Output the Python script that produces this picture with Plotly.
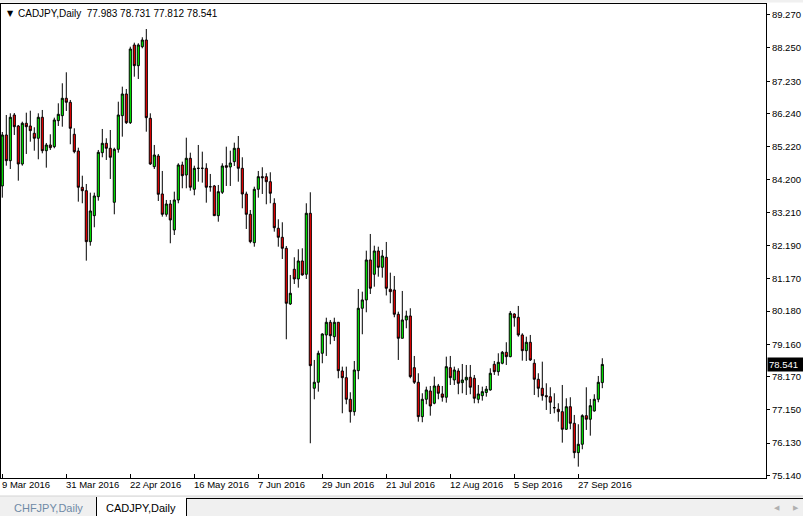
import pandas as pd
import plotly.graph_objects as go

symbol = "CADJPY,Daily"
other_tab = "CHFJPY,Daily"
dates = pd.bdate_range("2016-03-09", periods=151)

opens = [
    84.016, 85.580, 84.791, 86.193, 85.856, 84.690, 85.939, 85.856, 85.632, 85.479,
    86.123, 85.098, 85.273, 85.221, 86.019, 86.172, 86.706, 86.583, 85.601, 85.089,
    83.976, 83.871, 82.307, 83.105, 83.687, 85.037, 85.325, 85.172, 83.515, 85.141,
    86.172, 86.838, 85.957, 88.341, 87.706, 88.288, 88.494, 86.092, 84.608, 84.936,
    83.770, 83.147, 83.463, 82.666, 83.586, 84.660, 84.353, 84.865, 83.914, 84.560,
    84.558, 84.558, 83.994, 84.016, 83.105, 83.822, 84.638, 84.598, 84.761, 85.172,
    84.558, 83.770, 83.147, 82.276, 83.914, 84.301, 84.301, 84.147, 83.485, 82.718,
    82.442, 82.104, 80.396, 81.460, 81.163, 81.715, 81.307, 83.178, 77.810, 77.994,
    78.883, 79.445, 79.834, 79.393, 79.834, 78.340, 78.135, 77.472, 77.092, 78.350,
    80.264, 80.519, 81.746, 81.307, 82.022, 81.521, 81.828, 80.847, 80.825, 80.080,
    79.343, 79.905, 80.028, 78.442, 77.994, 76.939, 77.472, 77.727, 77.350, 77.880,
    77.635, 77.534, 78.442, 78.064, 78.340, 77.982, 78.064, 78.147, 78.117, 77.472,
    77.583, 77.681, 77.758, 78.546, 78.319, 78.577, 78.914, 78.779, 80.089, 79.988,
    79.445, 78.963, 79.221, 78.577, 78.086, 77.810, 77.583, 77.552, 77.215, 77.166,
    77.092, 76.552, 77.245, 76.736, 75.835, 76.092, 76.969, 76.859, 77.114, 77.472,
    77.983,
]
highs = [
    85.672, 86.193, 86.245, 86.254, 85.887, 85.988, 86.264, 86.325, 85.816, 86.245,
    86.347, 85.335, 85.601, 86.111, 86.552, 87.166, 87.503, 86.654, 85.785, 85.190,
    84.331, 84.077, 83.810, 83.810, 85.120, 85.764, 85.479, 85.733, 85.190, 86.601,
    87.062, 86.991, 88.288, 88.411, 88.393, 88.577, 88.831, 86.245, 85.273, 84.997,
    84.476, 83.586, 83.586, 83.841, 84.712, 84.761, 85.497, 85.037, 84.638, 85.273,
    85.068, 84.712, 84.384, 84.046, 84.046, 84.712, 85.221, 85.098, 85.344, 85.549,
    84.896, 83.841, 83.279, 83.994, 84.476, 84.589, 84.405, 84.436, 83.638, 82.994,
    82.902, 82.175, 81.285, 81.828, 82.074, 82.104, 83.485, 83.822, 78.678, 78.963,
    79.497, 79.975, 79.905, 79.975, 79.834, 78.473, 78.473, 77.687, 78.647, 80.856,
    80.773, 82.031, 82.543, 82.184, 82.153, 82.052, 82.298, 81.356, 81.255, 80.160,
    80.795, 80.190, 80.264, 78.801, 78.270, 77.657, 77.859, 77.880, 78.166, 77.942,
    77.880, 78.779, 78.801, 78.473, 78.423, 78.555, 78.524, 78.524, 78.218, 77.911,
    77.859, 77.880, 78.423, 78.647, 78.883, 78.954, 79.221, 80.181, 80.110, 80.335,
    79.497, 79.393, 79.445, 78.699, 78.270, 78.626, 77.963, 77.840, 77.657, 77.350,
    77.911, 77.503, 77.534, 76.991, 76.706, 77.012, 77.840, 77.482, 77.626, 78.187,
    78.731,
]
lows = [
    83.657, 84.638, 84.537, 85.580, 84.178, 84.638, 84.997, 85.374, 85.098, 84.834,
    85.018, 84.577, 85.120, 85.172, 85.856, 85.834, 86.316, 85.295, 85.018, 83.534,
    83.485, 81.724, 82.184, 82.749, 83.565, 84.896, 84.813, 84.230, 83.147, 85.037,
    85.528, 85.917, 85.917, 87.368, 87.298, 88.239, 85.681, 84.660, 84.537, 83.555,
    83.074, 83.074, 82.258, 82.512, 83.485, 83.945, 83.945, 83.871, 83.730, 84.147,
    84.117, 83.503, 83.841, 83.105, 82.920, 83.770, 84.016, 84.016, 84.629, 84.147,
    83.331, 82.697, 82.258, 82.153, 83.657, 83.770, 83.454, 83.485, 82.614, 82.153,
    81.776, 79.313, 80.365, 81.009, 80.896, 81.264, 81.163, 76.123, 77.472, 77.706,
    78.577, 78.801, 79.159, 79.261, 78.116, 77.043, 77.319, 76.755, 76.969, 78.086,
    79.466, 80.141, 80.702, 80.926, 81.233, 81.203, 80.657, 80.417, 79.988, 78.678,
    79.343, 79.650, 78.116, 77.942, 76.785, 76.767, 77.319, 76.969, 77.319, 77.472,
    77.399, 77.368, 77.911, 77.911, 77.626, 77.656, 77.604, 77.626, 77.350, 77.350,
    77.430, 77.552, 77.736, 78.218, 78.196, 78.546, 78.524, 78.761, 79.699, 79.393,
    78.657, 78.647, 78.647, 77.604, 77.534, 77.430, 77.144, 77.021, 77.043, 76.785,
    76.141, 76.531, 76.552, 75.662, 75.405, 75.939, 76.531, 76.356, 77.092, 77.380,
    77.812,
]
closes = [
    85.580, 84.791, 86.123, 85.834, 84.690, 85.939, 85.834, 85.712, 85.479, 86.123,
    85.098, 85.273, 85.190, 86.040, 86.215, 86.706, 86.583, 85.785, 85.068, 83.976,
    83.871, 82.307, 83.249, 83.709, 85.049, 85.325, 85.172, 84.896, 85.141, 86.193,
    86.838, 85.957, 88.218, 87.706, 88.341, 88.494, 86.111, 84.690, 84.966, 83.761,
    83.147, 83.463, 82.973, 83.586, 84.660, 84.331, 84.865, 83.976, 84.558, 84.555,
    84.558, 83.976, 83.990, 83.105, 83.841, 84.629, 84.589, 84.721, 85.172, 84.558,
    83.770, 83.147, 82.307, 83.914, 84.301, 84.270, 84.147, 83.791, 82.736, 82.442,
    82.104, 80.417, 80.724, 81.163, 81.715, 81.285, 83.178, 78.503, 77.994, 78.883,
    79.475, 79.834, 79.423, 79.834, 78.350, 78.135, 77.472, 77.092, 78.371, 80.264,
    80.519, 81.746, 80.877, 82.022, 81.521, 81.868, 80.877, 80.773, 80.080, 79.343,
    79.905, 80.028, 78.166, 77.994, 76.939, 77.472, 77.758, 77.267, 77.880, 77.656,
    77.534, 78.473, 78.135, 78.371, 77.963, 78.064, 78.147, 77.840, 77.503, 77.635,
    77.706, 77.782, 78.270, 78.319, 78.607, 78.914, 78.779, 80.110, 79.975, 79.445,
    78.963, 79.221, 78.678, 78.086, 77.810, 77.583, 77.552, 77.380, 77.212, 77.092,
    76.552, 77.245, 76.736, 75.835, 76.092, 76.969, 76.859, 77.276, 77.472, 77.994,
    78.541,
]

x_tick_index = [0, 16, 32, 48, 64, 80, 96, 112, 128, 144]
x_tick_labels = ["9 Mar 2016", "31 Mar 2016", "22 Apr 2016", "16 May 2016", "7 Jun 2016",
                 "29 Jun 2016", "21 Jul 2016", "12 Aug 2016", "5 Sep 2016", "27 Sep 2016"]
y_tick_values = [89.270, 88.250, 87.230, 86.240, 85.220, 84.200, 83.210, 82.190,
                 81.170, 80.180, 79.160, 78.170, 77.150, 76.130, 75.140]
y_tick_labels = ["%.3f" % v for v in y_tick_values]

FONT = "Liberation Sans"
W, H = 803, 516
ML, MR, MT, MB = 1, 37, 4, 38
PW, PH = W - ML - MR, H - MT - MB


def px(X):
    return (X - ML) / PW


def py(Y):
    return (H - MB - Y) / PH


xi = list(range(len(opens)))

fig = go.Figure()
fig.add_trace(go.Candlestick(
    x=xi, open=opens, high=highs, low=lows, close=closes,
    increasing=dict(line=dict(color="black", width=1), fillcolor="#00ff00"),
    decreasing=dict(line=dict(color="black", width=1), fillcolor="#ff0000"),
    whiskerwidth=0, hoverinfo="skip", showlegend=False,
))

annotations = []
annotations.append(dict(text="▼", x=px(5), y=py(14), xref="paper", yref="paper",
                        xanchor="left", yanchor="middle", showarrow=False,
                        font=dict(family="DejaVu Sans", size=8, color="black")))
header = "%s  %.3f %.3f %.3f %.3f" % (symbol, opens[-1], highs[-1], lows[-1], closes[-1])
annotations.append(dict(text=header, x=px(16), y=py(14), xref="paper", yref="paper",
                        xanchor="left", yanchor="middle", showarrow=False,
                        font=dict(family=FONT, size=10, color="black")))
for i, lab in zip(x_tick_index, x_tick_labels):
    annotations.append(dict(text=lab, x=i, xref="x", y=py(484.5), yref="paper",
                            xanchor="left", yanchor="middle", showarrow=False, xshift=-2,
                            font=dict(family=FONT, size=9.5, color="black")))
annotations.append(dict(text="%.3f" % closes[-1], x=px(767), xref="paper", y=closes[-1], yref="y",
                        xanchor="left", yanchor="middle", showarrow=False, align="left",
                        bgcolor="black", borderpad=1, width=34,
                        font=dict(family=FONT, size=9.5, color="white")))
annotations.append(dict(text=other_tab, x=px(48), y=py(507.5), xref="paper", yref="paper",
                        xanchor="center", yanchor="middle", showarrow=False,
                        font=dict(family=FONT, size=11, color="#6f8aa6")))
annotations.append(dict(text=symbol, x=px(141), y=py(507.5), xref="paper", yref="paper",
                        xanchor="center", yanchor="middle", showarrow=False,
                        font=dict(family=FONT, size=11, color="black")))
annotations.append(dict(text="◀", x=px(777), y=py(507.5), xref="paper", yref="paper",
                        xanchor="center", yanchor="middle", showarrow=False,
                        font=dict(family="DejaVu Sans", size=7, color="#b0b0b0")))
annotations.append(dict(text="▶", x=px(796), y=py(507.5), xref="paper", yref="paper",
                        xanchor="center", yanchor="middle", showarrow=False,
                        font=dict(family="DejaVu Sans", size=7, color="#b0b0b0")))

shapes = [
    dict(type="rect", xref="paper", yref="paper", x0=px(0), x1=px(W), y0=py(0), y1=py(2.5),
         fillcolor="#f0f0f0", line=dict(width=0), layer="below"),
    dict(type="rect", xref="paper", yref="paper", x0=px(0), x1=px(W), y0=py(496), y1=py(H),
         fillcolor="#f0f0f0", line=dict(width=0), layer="below"),
    dict(type="line", xref="paper", yref="paper", x0=px(0), x1=px(W), y0=py(496), y1=py(496),
         line=dict(color="#d4d4d4", width=1)),
    dict(type="rect", xref="paper", yref="paper", x0=px(96), x1=px(186), y0=py(497), y1=py(H),
         fillcolor="white", line=dict(width=0)),
    dict(type="line", xref="paper", yref="paper", x0=px(96.5), x1=px(96.5), y0=py(497), y1=py(H),
         line=dict(color="black", width=1)),
    dict(type="line", xref="paper", yref="paper", x0=px(186.5), x1=px(186.5), y0=py(498), y1=py(H),
         line=dict(color="black", width=1)),
    dict(type="line", xref="paper", yref="paper", x0=px(186.5), x1=px(W), y0=py(498.5), y1=py(498.5),
         line=dict(color="black", width=1)),
]

fig.update_layout(
    width=W, height=H,
    margin=dict(l=ML, r=MR, t=MT, b=MB, pad=0),
    paper_bgcolor="white", plot_bgcolor="white",
    font=dict(family=FONT, size=10, color="black"),
    boxgap=0.25,
    showlegend=False,
    hovermode=False,
    annotations=annotations,
    shapes=shapes,
    xaxis=dict(
        range=[(ML - 2.3) / 4, (W - MR - 2.3) / 4],
        rangeslider=dict(visible=False),
        showgrid=False, zeroline=False,
        showline=True, linecolor="black", linewidth=1, mirror=True,
        ticks="inside", ticklen=4, tickcolor="black", tickwidth=1,
        tickvals=x_tick_index, showticklabels=False,
    ),
    yaxis=dict(
        side="right",
        range=[75.057, 89.598],
        showgrid=False, zeroline=False,
        showline=True, linecolor="black", linewidth=1, mirror=True,
        ticks="outside", ticklen=3, tickcolor="black", tickwidth=1,
        tickvals=y_tick_values, ticktext=y_tick_labels,
        tickfont=dict(family=FONT, size=9.5, color="black"),
    ),
)

fig.write_html("out.html", config={"displayModeBar": False},
               post_script="document.body.style.margin='0';document.body.style.overflow='hidden';")
